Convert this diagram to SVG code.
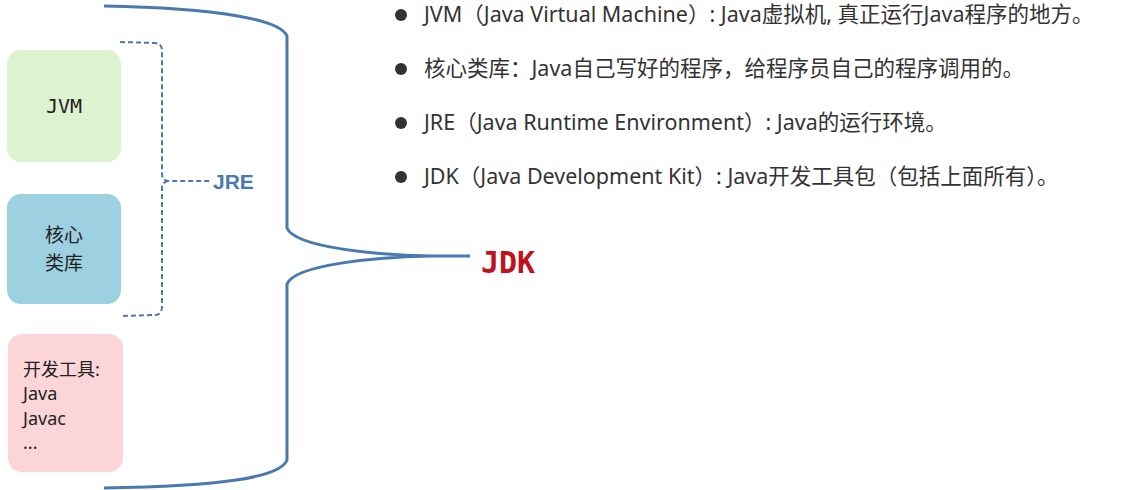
<svg xmlns="http://www.w3.org/2000/svg" width="1141" height="490" viewBox="0 0 1141 490">
<style>
.t{font-family:"Noto Sans","Noto Sans CJK SC",sans-serif;fill:#333;font-size:21.5px}
.b{font-family:"Noto Sans","Noto Sans CJK SC",sans-serif;fill:#222;font-size:19px}
.s{font-family:"Noto Sans","Noto Sans CJK SC",sans-serif;fill:#222;font-size:18px}
.m{font-family:"DejaVu Sans Mono","Noto Sans CJK SC",monospace;fill:#222;font-size:20px}
</style>
<rect width="1141" height="490" fill="#fff"/>
<g id="conn" fill="none" stroke="#4a78b0">
<path d="M104,6 C220,8 280,20 287,36 L287,228 C295,248 380,255 430,256 L470,256 M430,256 C380,257 295,264 287,284 L287,460 C280,478 220,486 104,488" stroke-width="3"/>
<path d="M120,42 L155,43 Q162,44 162,50 L162,174 Q162,180 168,181 L210,181 M168,181 Q162,182 162,188 L162,306 Q162,315 155,315 L120,316" stroke-width="2" stroke-dasharray="5,3"/>
</g>
<text x="213" y="189" font-family="Liberation Sans,sans-serif" font-weight="bold" font-size="21" fill="#4a78b0">JRE</text>
<text x="481" y="273" font-family="DejaVu Sans Mono,monospace" font-weight="bold" font-size="30" fill="#c0121c">JDK</text>
<g id="jvm"><rect x="7" y="50" width="114" height="112" rx="14" fill="#ddf2cf"/><text class="m" x="64" y="113" text-anchor="middle">JVM</text></g>
<g id="lib"><rect x="7" y="194" width="114" height="110" rx="14" fill="#9dd0e0"/><text class="b" x="64" y="242" text-anchor="middle">核心</text><text class="b" x="64" y="270" text-anchor="middle">类库</text></g>
<g id="tools"><rect x="8" y="334" width="115" height="138" rx="14" fill="#fbd5d8"/>
<text class="s" x="23" y="376">开发工具:</text><text class="s" x="23" y="400">Java</text><text class="s" x="23" y="425">Javac</text><text class="s" x="23" y="449">...</text></g>
<g id="notes">
<circle cx="401" cy="15" r="6" fill="#333"/><text class="t" x="424" y="22">JVM（Java Virtual Machine）: Java虚拟机, 真正运行Java程序的地方。</text>
<circle cx="401" cy="69" r="6" fill="#333"/><text class="t" x="424" y="76">核心类库：Java自己写好的程序，给程序员自己的程序调用的。</text>
<circle cx="401" cy="123" r="6" fill="#333"/><text class="t" x="424" y="130">JRE（Java Runtime Environment）: Java的运行环境。</text>
<circle cx="401" cy="177" r="6" fill="#333"/><text class="t" x="424" y="184">JDK（Java Development Kit）: Java开发工具包（包括上面所有）。</text>
</g>
</svg>
